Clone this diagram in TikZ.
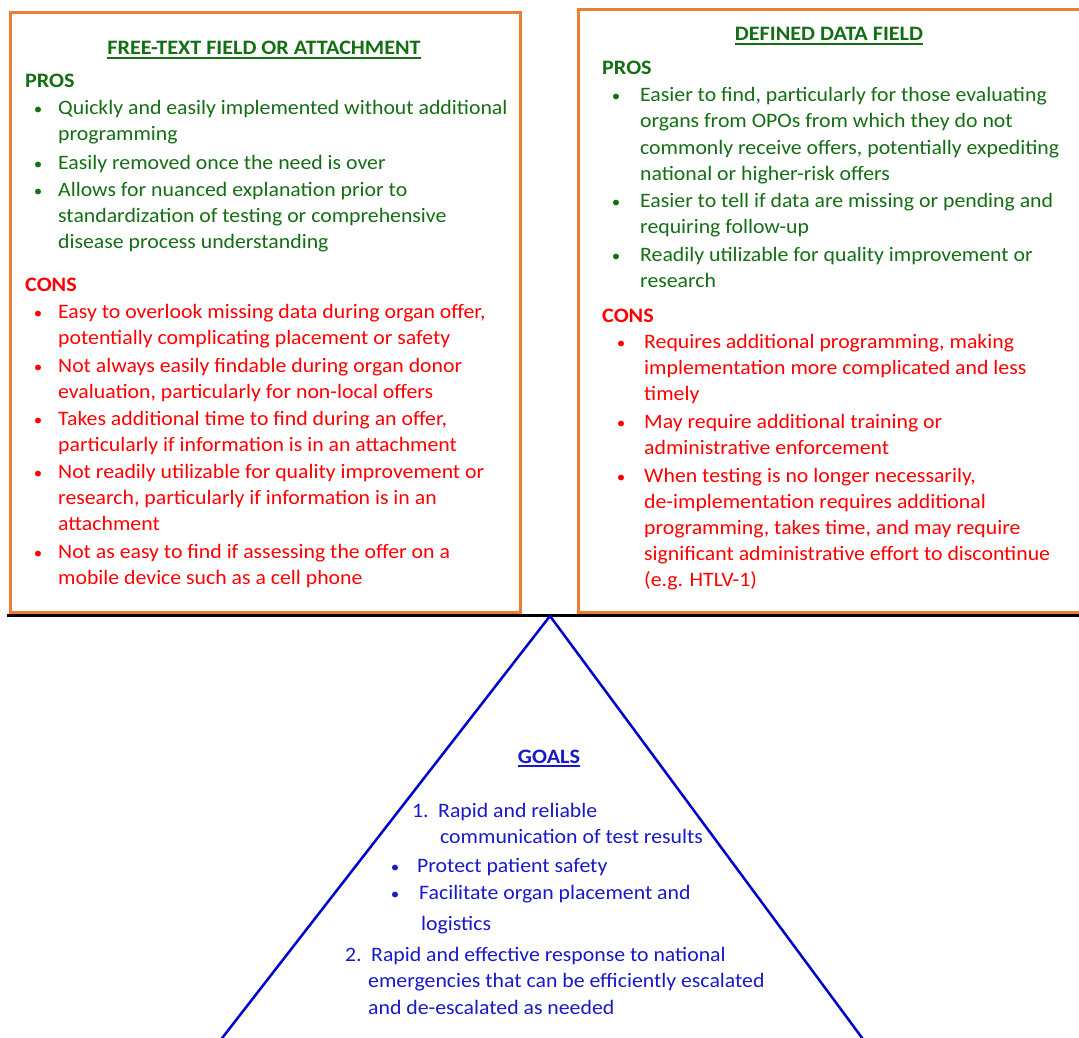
\documentclass[tikz,border=0pt]{standalone}
\usepackage{fontspec}
\setmainfont{Carlito}[FakeStretch=1.062, BoldFeatures={FakeStretch=1.08}]
\definecolor{boxorange}{RGB}{237,125,49}
\definecolor{fgreen}{RGB}{20,110,20}
\definecolor{fred}{RGB}{255,0,0}
\definecolor{fblue}{RGB}{25,25,200}
\definecolor{lblue}{RGB}{0,0,204}
\newcommand\putline[4]{\node[body] (#1) at (#2,#3) {#4};}
\newcommand\putdot[3]{\node[dot] (#1) at (#2,#3) {\textbullet};}
\tikzset{
  body/.style={inner sep=0, anchor=base west, font=\fontsize{20.5}{26}\selectfont},
  head/.style={inner sep=0, anchor=base west, font=\fontsize{20.5}{26}\selectfont\bfseries},
  title/.style={inner sep=0, anchor=base, font=\fontsize{20.5}{26}\selectfont\bfseries},
  dot/.style={inner sep=0, anchor=base, font=\fontsize{16}{26}\selectfont},
  panel/.style={draw=boxorange, line width=3pt},
}
\begin{document}
\begin{tikzpicture}[x=1pt,y=-1pt]
\useasboundingbox (0,0) rectangle (1079,1038);
\clip (0,0) rectangle (1079,1038);
\fill[white] (0,0) rectangle (1079,1038);

% ground line and the two option panels
\coordinate (gl) at (7,615);
\coordinate (gr) at (1085,615);
\draw[black, line width=3pt] (gl) -- (gr);
\draw[panel] (10,13) rectangle (520,612);
\draw[panel] (578,10) rectangle (1095,612);

% goals triangle
\coordinate (apex) at (550,616);
\coordinate (bl) at (174,1100);
\coordinate (br) at (908,1100);
\draw[lblue, line width=2.5pt, line join=miter] (bl) -- (apex) -- (br);

% ---------- free-text field panel ----------
\begin{scope}[every node/.append style={text=fgreen}]
\node[title] (lt) at (264,55) {FREE-TEXT FIELD OR ATTACHMENT};
\draw[fgreen, line width=1.6pt] ([yshift=-3pt]lt.base west) -- ([yshift=-3pt]lt.base east);
\node[head] (lpros) at (25,88) {PROS};
\putdot{lpd1}{38}{115}
\putline{lp1}{58}{115}{Quickly and easily implemented without additional}
\putline{lp2}{58}{141}{programming}
\putdot{lpd2}{38}{169}
\putline{lp3}{58}{169}{Easily removed once the need is over}
\putdot{lpd3}{38}{196}
\putline{lp4}{58}{196}{Allows for nuanced explanation prior to}
\putline{lp5}{58}{222}{standardization of testing or comprehensive}
\putline{lp6}{58}{248}{disease process understanding}
\end{scope}

\begin{scope}[every node/.append style={text=fred}]
\node[head] (lcons) at (25,291) {CONS};
\putdot{lcd1}{38}{318}
\putline{lc1}{58}{318}{Easy to overlook missing data during organ offer,}
\putline{lc2}{58}{344}{potentially complicating placement or safety}
\putdot{lcd2}{38}{372}
\putline{lc3}{58}{372}{Not always easily findable during organ donor}
\putline{lc4}{58}{398}{evaluation, particularly for non-local offers}
\putdot{lcd3}{38}{425}
\putline{lc5}{58}{425}{Takes additional time to find during an offer,}
\putline{lc6}{58}{451}{particularly if information is in an attachment}
\putdot{lcd4}{38}{478}
\putline{lc7}{58}{478}{Not readily utilizable for quality improvement or}
\putline{lc8}{58}{504}{research, particularly if information is in an}
\putline{lc9}{58}{530}{attachment}
\putdot{lcd5}{38}{558}
\putline{lc10}{58}{558}{Not as easy to find if assessing the offer on a}
\putline{lc11}{58}{584}{mobile device such as a cell phone}
\end{scope}

% ---------- defined data field panel ----------
\begin{scope}[every node/.append style={text=fgreen}]
\node[title] (rt) at (829,41) {DEFINED DATA FIELD};
\draw[fgreen, line width=1.6pt] ([yshift=-3pt]rt.base west) -- ([yshift=-3pt]rt.base east);
\node[head] (rpros) at (602,75) {PROS};
\putdot{rpd1}{616}{102}
\putline{rp1}{640}{102}{Easier to find, particularly for those evaluating}
\putline{rp2}{640}{128}{organs from OPOs from which they do not}
\putline{rp3}{640}{154}{commonly receive offers, potentially expediting}
\putline{rp4}{640}{180}{national or higher-risk offers}
\putdot{rpd2}{616}{207}
\putline{rp5}{640}{207}{Easier to tell if data are missing or pending and}
\putline{rp6}{640}{233}{requiring follow-up}
\putdot{rpd3}{616}{261}
\putline{rp7}{640}{261}{Readily utilizable for quality improvement or}
\putline{rp8}{640}{287}{research}
\end{scope}

\begin{scope}[every node/.append style={text=fred}]
\node[head] (rcons) at (602,322) {CONS};
\putdot{rcd1}{621}{348}
\putline{rc1}{644}{348}{Requires additional programming, making}
\putline{rc2}{644}{374}{implementation more complicated and less}
\putline{rc3}{644}{400}{timely}
\putdot{rcd2}{621}{428}
\putline{rc4}{644}{428}{May require additional training or}
\putline{rc5}{644}{454}{administrative enforcement}
\putdot{rcd3}{621}{482}
\putline{rc6}{644}{482}{When testing is no longer necessarily,}
\putline{rc7}{644}{508}{de-implementation requires additional}
\putline{rc8}{644}{534}{programming, takes time, and may require}
\putline{rc9}{644}{560}{significant administrative effort to discontinue}
\putline{rc10}{644}{586}{(e.g. HTLV-1)}
\end{scope}

% ---------- goals ----------
\begin{scope}[every node/.append style={text=fblue}]
\node[title] (gt) at (549,763) {GOALS};
\draw[fblue, line width=1.6pt] ([yshift=-3pt]gt.base west) -- ([yshift=-3pt]gt.base east);
\putline{g1n}{412}{817}{1.}
\putline{g1}{438}{817}{Rapid and reliable}
\putline{g1b}{440}{843}{communication of test results}
\putdot{gd1}{395}{872}
\putline{g2}{417}{872}{Protect patient safety}
\putdot{gd2}{395}{899}
\putline{g3}{419}{899}{Facilitate organ placement and}
\putline{g3b}{421}{930}{logistics}
\putline{g4n}{345}{961}{2.}
\putline{g4}{371}{961}{Rapid and effective response to national}
\putline{g4b}{368}{987}{emergencies that can be efficiently escalated}
\putline{g4c}{368}{1014}{and de-escalated as needed}
\end{scope}
\end{tikzpicture}
\end{document}
